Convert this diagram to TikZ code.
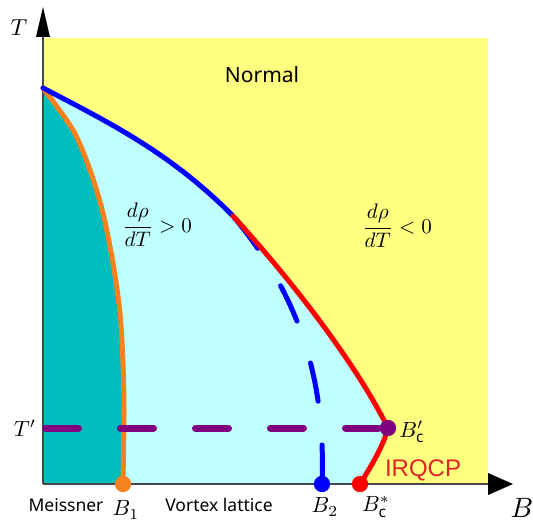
\documentclass[tikz,border=0pt]{standalone}
\usepackage{fontspec}
\setmainfont{Noto Sans}
\newfontfamily\arialfont{Liberation Sans}
\usetikzlibrary{arrows.meta}
\definecolor{yell}{RGB}{255,255,128}
\definecolor{lcyan}{RGB}{191,255,255}
\definecolor{tealc}{RGB}{0,190,190}
\definecolor{orng}{RGB}{245,130,30}
\definecolor{purp}{RGB}{128,0,128}
\definecolor{bluec}{RGB}{0,0,255}
\definecolor{redc}{RGB}{255,0,0}
\definecolor{irq}{RGB}{225,35,35}
\definecolor{axisc}{RGB}{70,70,70}
\tikzset{
  axisline/.style={draw=axisc, line width=1.5pt},
  curveline/.style={line width=5pt, line cap=round, line join=round},
  dotst/.style={circle, inner sep=0pt, minimum size=16pt},
  mathlbl/.style={inner sep=0pt, font=\fontsize{10}{12}\selectfont, scale=2.2},
  sanslbl/.style={inner sep=0pt, font=\fontsize{17.5}{21}\selectfont},
}
\begin{document}
\begin{tikzpicture}[x=1pt,y=-1pt]
\useasboundingbox (0,0) rectangle (533,524);
% key points
\coordinate (O) at (43,484);
\coordinate (Tc) at (43,88);
\coordinate (S) at (233,216);
\coordinate (Bp) at (388,428);
\coordinate (Bs) at (360,484);
% background regions
\fill[yell] (43,38) rectangle (488,484);
\fill[lcyan] (Tc) .. controls (106,121) and (170,152) .. (S)
  .. controls (285,273) and (353,358) .. (Bp)
  .. controls (383,447) and (370,468) .. (Bs)
  -- (O) -- cycle;
\fill[tealc] plot[smooth] coordinates {(43,88) (73,130) (90,170) (103,213) (113,263) (120,313) (123,363) (124,413) (124,484)}
  -- (O) -- cycle;
% axes
\coordinate (Ttip) at (43,7);
\coordinate (Btip) at (513,484);
\draw[axisline] (O) -- (43,30);
\draw[axisline] (O) -- (495,484);
\fill[black] (Ttip) -- (50,37) -- (36,37) -- cycle;
\fill[black] (Btip) -- (488,473) -- (488,495) -- cycle;
% dots
\node[dotst, fill=orng] (b1) at (123,484) {};
\node[dotst, fill=bluec] (b2) at (322,484) {};
\node[dotst, fill=redc] (bs) at (Bs) {};
\node[dotst, fill=purp] (bp) at (Bp) {};
\coordinate (tp) at (45.5,428);
% curves
\draw[curveline, orng] plot[smooth] coordinates {(43,88) (73,130) (90,170) (103,213) (113,263) (120,313) (123,363) (124,413) (123,484)};
\draw[curveline, bluec, dash pattern=on 39pt off 44pt] (b2.center) .. controls (326,380) and (300,296) .. (S);
\draw[curveline, bluec] (Tc) .. controls (106,121) and (170,152) .. (S);
\draw[curveline, redc] (S) .. controls (285,273) and (353,358) .. (Bp)
  .. controls (383,447) and (370,468) .. (Bs);
\draw[line width=7pt, purp, line cap=round, dash pattern=on 33pt off 42pt] (tp) -- (bp);
% redraw dots on top
\node[dotst, fill=orng] at (b1) {};
\node[dotst, fill=bluec] at (b2) {};
\node[dotst, fill=redc] at (bs) {};
\node[dotst, fill=purp] at (bp) {};
% labels
\node[mathlbl, scale=1.05] (tl) at (19,28) {$T$};
\node[mathlbl] (tpl) at (25,428) {$T'$};
\node[mathlbl] (b1l) at (126,510) {$B_1$};
\node[mathlbl] (b2l) at (325,507) {$B_2$};
\node[mathlbl] (bsl) at (376,507) {$B^*_{\mathrm{c}}$};
\node[mathlbl] (bpl) at (412,432) {$B'_{\mathrm{c}}$};
\node[inner sep=0pt, font=\fontsize{10}{12}\selectfont, scale=2.8] (bl) at (522,508) {$B$};
\node[inner sep=0pt, font=\fontsize{21}{25}\selectfont] (normal) at (262,75) {Normal};
\node[sanslbl] (meis) at (66,505) {Meissner};
\node[sanslbl] (vort) at (219,505) {Vortex lattice};
\node[inner sep=0pt, font=\arialfont\fontsize{24}{28}\selectfont, text=irq] (irqcp) at (423,470) {IRQCP};
\node[inner sep=0pt, font=\fontsize{10}{12}\selectfont, scale=2.1] (pos) at (157,225) {$\displaystyle\frac{d\rho}{dT}>0$};
\node[inner sep=0pt, font=\fontsize{10}{12}\selectfont, scale=2.1] (neg) at (397,226) {$\displaystyle\frac{d\rho}{dT}<0$};
\end{tikzpicture}
\end{document}
